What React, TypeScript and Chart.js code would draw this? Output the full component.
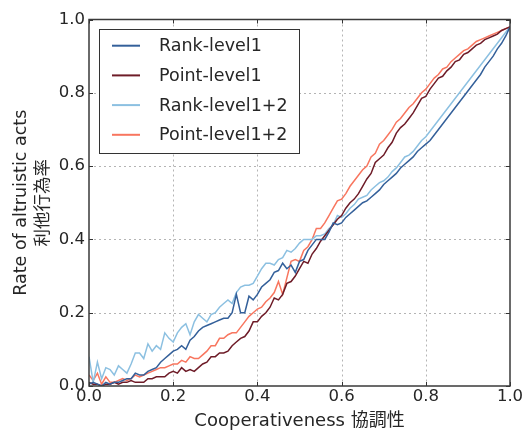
import React, { useEffect, useRef } from "react";
import { Chart, registerables } from "chart.js";

Chart.register(...registerables);

const FONT = "'DejaVu Sans', 'Noto Sans CJK JP', sans-serif";
const TEXT = "#262626";

const xTitle = "Cooperativeness 協調性";
const yTitle = ["Rate of altruistic acts", "利他行為率"];
const seriesNames = ["Rank-level1", "Point-level1", "Rank-level1+2", "Point-level1+2"];
const seriesColors = ["#34609a", "#6e1c28", "#8cc0e1", "#f8765f"];
const tickValues = [0, 0.2, 0.4, 0.6, 0.8, 1.0];

// x sampling grid: 0.00 .. 1.00 step 0.01
const xs = Array.from({ length: 101 }, (_, i) => i / 100);

const rankLevel1 = [
  0.005, 0.01, 0.005, 0.0, 0.01, 0.005, 0.01, 0.01, 0.015, 0.02,
  0.02, 0.035, 0.03, 0.03, 0.04, 0.045, 0.05, 0.065, 0.075, 0.085,
  0.095, 0.10, 0.11, 0.10, 0.125, 0.135, 0.15, 0.16, 0.165, 0.17,
  0.175, 0.18, 0.185, 0.185, 0.20, 0.25, 0.20, 0.20, 0.245, 0.235,
  0.25, 0.27, 0.28, 0.29, 0.31, 0.315, 0.335, 0.32, 0.33, 0.31,
  0.34, 0.345, 0.37, 0.385, 0.40, 0.40, 0.40, 0.42, 0.445, 0.44,
  0.445, 0.46, 0.47, 0.48, 0.49, 0.50, 0.505, 0.515, 0.525, 0.535,
  0.55, 0.56, 0.57, 0.58, 0.595, 0.605, 0.615, 0.625, 0.64, 0.65,
  0.66, 0.67, 0.685, 0.70, 0.715, 0.73, 0.745, 0.76, 0.775, 0.79,
  0.805, 0.82, 0.835, 0.85, 0.87, 0.885, 0.90, 0.92, 0.935, 0.955,
  0.98,
];

const pointLevel1 = [
  0.01, 0.005, 0.005, 0.0, 0.005, 0.005, 0.01, 0.005, 0.01, 0.01,
  0.015, 0.01, 0.01, 0.01, 0.02, 0.02, 0.025, 0.025, 0.025, 0.035,
  0.04, 0.035, 0.05, 0.04, 0.045, 0.04, 0.05, 0.06, 0.065, 0.08,
  0.08, 0.09, 0.09, 0.095, 0.11, 0.12, 0.13, 0.135, 0.15, 0.175,
  0.175, 0.19, 0.20, 0.215, 0.24, 0.235, 0.25, 0.28, 0.285, 0.30,
  0.32, 0.34, 0.335, 0.36, 0.375, 0.395, 0.41, 0.425, 0.44, 0.455,
  0.465, 0.485, 0.50, 0.51, 0.525, 0.545, 0.565, 0.58, 0.61, 0.62,
  0.63, 0.65, 0.665, 0.69, 0.705, 0.715, 0.73, 0.745, 0.765, 0.785,
  0.79, 0.81, 0.825, 0.84, 0.845, 0.86, 0.87, 0.885, 0.89, 0.905,
  0.91, 0.92, 0.93, 0.935, 0.945, 0.95, 0.955, 0.96, 0.97, 0.975,
  0.98,
];

const rankLevel12 = [
  0.08, 0.01, 0.065, 0.02, 0.05, 0.045, 0.03, 0.055, 0.045, 0.035,
  0.06, 0.09, 0.09, 0.075, 0.115, 0.095, 0.11, 0.10, 0.145, 0.13,
  0.12, 0.145, 0.16, 0.17, 0.14, 0.175, 0.195, 0.185, 0.175, 0.195,
  0.20, 0.215, 0.225, 0.235, 0.225, 0.255, 0.27, 0.275, 0.275, 0.28,
  0.30, 0.32, 0.335, 0.335, 0.33, 0.345, 0.35, 0.37, 0.365, 0.375,
  0.39, 0.40, 0.40, 0.40, 0.41, 0.41, 0.415, 0.43, 0.44, 0.465,
  0.46, 0.47, 0.485, 0.495, 0.51, 0.515, 0.52, 0.535, 0.545, 0.555,
  0.56, 0.57, 0.585, 0.595, 0.61, 0.625, 0.63, 0.64, 0.655, 0.67,
  0.68, 0.695, 0.71, 0.725, 0.74, 0.755, 0.77, 0.785, 0.80, 0.815,
  0.83, 0.845, 0.86, 0.875, 0.89, 0.905, 0.92, 0.935, 0.95, 0.965,
  0.98,
];

const pointLevel12 = [
  0.03, 0.015, 0.035, 0.005, 0.025, 0.01, 0.01, 0.015, 0.02, 0.015,
  0.02, 0.03, 0.025, 0.03, 0.035, 0.04, 0.045, 0.05, 0.05, 0.055,
  0.06, 0.06, 0.07, 0.065, 0.08, 0.075, 0.075, 0.085, 0.095, 0.11,
  0.11, 0.13, 0.13, 0.14, 0.145, 0.145, 0.16, 0.175, 0.19, 0.20,
  0.21, 0.215, 0.23, 0.24, 0.255, 0.285, 0.25, 0.295, 0.34, 0.345,
  0.34, 0.37, 0.38, 0.40, 0.43, 0.43, 0.445, 0.465, 0.485, 0.505,
  0.51, 0.525, 0.545, 0.56, 0.575, 0.59, 0.60, 0.625, 0.635, 0.66,
  0.67, 0.685, 0.70, 0.72, 0.73, 0.745, 0.76, 0.77, 0.785, 0.80,
  0.81, 0.825, 0.84, 0.85, 0.865, 0.87, 0.885, 0.895, 0.905, 0.915,
  0.92, 0.93, 0.94, 0.945, 0.95, 0.955, 0.96, 0.965, 0.97, 0.975,
  0.98,
];

const seriesValues = [rankLevel1, pointLevel1, rankLevel12, pointLevel12];

const framePlugin = {
  id: "frameAndLegend",
  beforeDatasetsDraw(chart: any) {
    const { ctx, chartArea } = chart;
    const { left, right, top, bottom } = chartArea;
    const xScale = chart.scales.x;
    const yScale = chart.scales.y;
    ctx.save();
    ctx.strokeStyle = "#b4b4b4";
    ctx.lineWidth = 1;
    ctx.setLineDash([2, 3]);
    for (const v of tickValues) {
      if (v === 0 || v === 1) continue;
      const px = Math.round(xScale.getPixelForValue(v)) + 0.5;
      const py = Math.round(yScale.getPixelForValue(v)) + 0.5;
      ctx.beginPath();
      ctx.moveTo(px, top);
      ctx.lineTo(px, bottom);
      ctx.moveTo(left, py);
      ctx.lineTo(right, py);
      ctx.stroke();
    }
    ctx.restore();
  },
  afterDraw(chart: any) {
    const { ctx, chartArea } = chart;
    const { left, right, top, bottom } = chartArea;
    const xScale = chart.scales.x;
    const yScale = chart.scales.y;
    ctx.save();
    // inward ticks
    ctx.strokeStyle = "#333";
    ctx.lineWidth = 1;
    ctx.setLineDash([]);
    const tl = 4;
    for (const v of tickValues) {
      const px = Math.round(xScale.getPixelForValue(v)) + 0.5;
      const py = Math.round(yScale.getPixelForValue(v)) + 0.5;
      ctx.beginPath();
      ctx.moveTo(px, bottom);
      ctx.lineTo(px, bottom - tl);
      ctx.moveTo(px, top);
      ctx.lineTo(px, top + tl);
      ctx.moveTo(left, py);
      ctx.lineTo(left + tl, py);
      ctx.moveTo(right, py);
      ctx.lineTo(right - tl, py);
      ctx.stroke();
    }
    // frame
    ctx.strokeStyle = "#3a3a3a";
    ctx.lineWidth = 1.5;
    ctx.strokeRect(left, top, right - left, bottom - top);

    // legend
    const bx = 99.5, by = 29.5, bw = 200, bh = 124;
    ctx.fillStyle = "#ffffff";
    ctx.fillRect(bx, by, bw, bh);
    ctx.strokeStyle = "#333";
    ctx.lineWidth = 1;
    ctx.strokeRect(bx, by, bw, bh);
    ctx.font = `17.5px ${FONT}`;
    ctx.textBaseline = "middle";
    ctx.textAlign = "left";
    chart.data.datasets.forEach((ds: any, i: number) => {
      const y = 45.7 + i * 29.7;
      ctx.strokeStyle = ds.borderColor;
      ctx.lineWidth = 2;
      ctx.beginPath();
      ctx.moveTo(112, y);
      ctx.lineTo(140, y);
      ctx.stroke();
      ctx.fillStyle = TEXT;
      ctx.fillText(ds.label, 159, y + 1);
    });
    ctx.restore();
  },
};

export default function App() {
  const ref = useRef<HTMLCanvasElement | null>(null);
  useEffect(() => {
    if (!ref.current) return;
    const chart = new Chart(ref.current, {
      type: "line",
      data: {
        datasets: seriesNames.map((name, i) => ({
          label: name,
          data: seriesValues[i].map((y, j) => ({ x: xs[j], y })),
          borderColor: seriesColors[i],
          backgroundColor: seriesColors[i],
          borderWidth: 1.5,
          pointRadius: 0,
          tension: 0,
          fill: false,
        })),
      },
      options: {
        responsive: false,
        animation: false,
        layout: { padding: { top: 19.5, right: 21, left: 0, bottom: 0 } },
        plugins: { legend: { display: false }, tooltip: { enabled: false } },
        scales: {
          x: {
            type: "linear",
            min: 0,
            max: 1,
            afterFit: (s: any) => { s.height = 44; },
            afterBuildTicks: (s: any) => { s.ticks = tickValues.map((v) => ({ value: v })); },
            ticks: {
              padding: 1,
              color: TEXT,
              font: { family: FONT, size: 16.5 },
              callback: (v: any) => Number(v).toFixed(1),
              maxRotation: 0,
              autoSkip: false,
            },
            grid: { display: false, drawTicks: false },
            border: { display: false },
            title: {
              display: true,
              text: xTitle,
              color: TEXT,
              font: { family: FONT, size: 18, lineHeight: 1.0 },
              padding: { top: 0, bottom: 0 },
            },
          },
          y: {
            type: "linear",
            min: 0,
            max: 1,
            afterFit: (s: any) => { s.width = 89; },
            afterBuildTicks: (s: any) => { s.ticks = tickValues.map((v) => ({ value: v })); },
            ticks: {
              padding: 4,
              color: TEXT,
              font: { family: FONT, size: 16.5 },
              callback: (v: any) => Number(v).toFixed(1),
              autoSkip: false,
            },
            grid: { display: false, drawTicks: false },
            border: { display: false },
            title: {
              display: true,
              text: yTitle,
              color: TEXT,
              font: { family: FONT, size: 17.5, lineHeight: 1.26 },
              padding: { top: 10, bottom: 0 },
            },
          },
        },
      },
      plugins: [framePlugin],
    });
    return () => chart.destroy();
  }, []);
  return (
    <canvas
      ref={ref}
      width={531}
      height={430}
      style={{ position: "absolute", left: 0, top: 0, width: 531, height: 430, background: "#fff" }}
    />
  );
}
